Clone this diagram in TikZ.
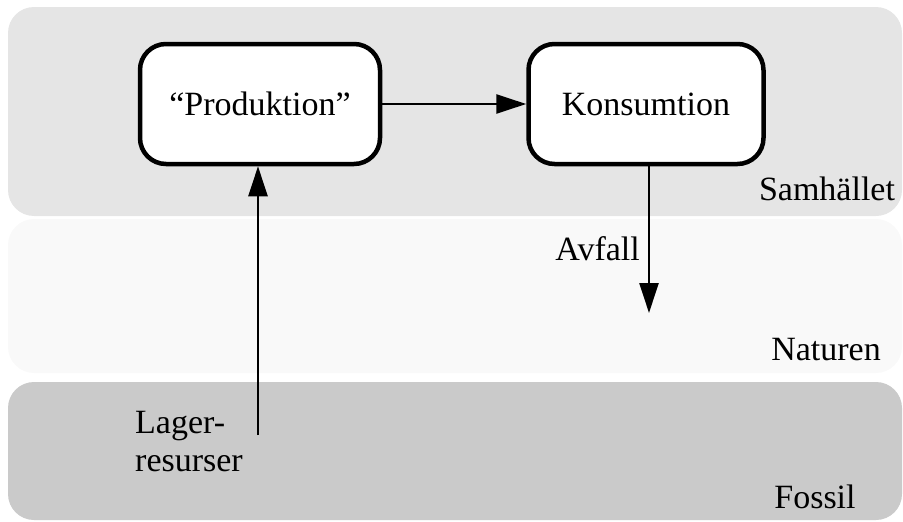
\documentclass[tikz,border=0pt]{standalone}
\usepackage{fontspec}
\setmainfont{Liberation Serif}
\usetikzlibrary{arrows.meta}
\begin{document}
\begin{tikzpicture}[x=1pt,y=-1pt,
  font=\fontsize{34}{40}\selectfont,
  band/.style={rounded corners=26pt},
  procbox/.style={draw, fill=white, line width=4.5pt, rounded corners=26pt, minimum height=120pt, inner sep=0pt},
  flow/.style={line width=2.4pt, -{Triangle[length=30pt,width=19pt]}},
  lbl/.style={inner sep=0pt, anchor=base}]
\useasboundingbox (0,0) rectangle (903,522);
\definecolor{samh}{HTML}{E5E5E5}
\definecolor{natur}{HTML}{F9F9F9}
\definecolor{foss}{HTML}{CACACA}
\fill[samh, band] (8,7) rectangle (902,216);
\fill[natur, band] (8,219) rectangle (902,373);
\fill[foss, band] (8,382) rectangle (902,520);
\node[procbox, minimum width=240pt] (prod) at (260,104) {“Produktion”};
\node[procbox, minimum width=235pt] (kons) at (646,104) {Konsumtion};
\node[lbl] (samhlbl) at (827,200) {Samhället};
\node[lbl] (naturlbl) at (826,360) {Naturen};
\node[lbl] (fosslbl) at (815,508) {Fossil};
\node[lbl, anchor=base east] (avfall) at (640,260) {Avfall};
\node[lbl, anchor=base west] (lager) at (135,433) {Lager-};
\node[lbl, anchor=base west] (resurser) at (135,471) {resurser};
\coordinate (lagstart) at (258,435);
\coordinate (avfend) at (649,313);
\draw[flow] (prod.east) -- (kons.west);
\draw[flow] (lagstart) -- (lagstart |- prod.south);
\draw[flow] (avfend |- kons.south) -- (avfend);
\end{tikzpicture}
\end{document}
